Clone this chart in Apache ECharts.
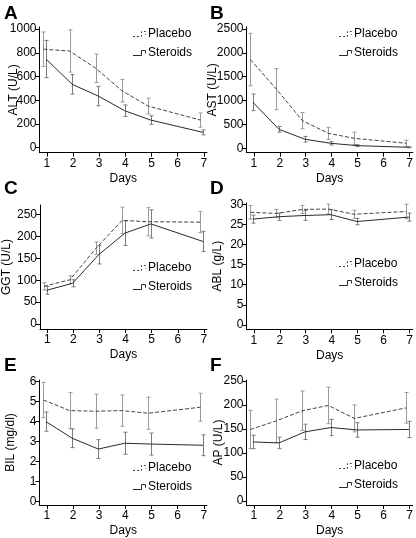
<!DOCTYPE html>
<html><head><meta charset="utf-8">
<script src="https://cdn.jsdelivr.net/npm/echarts@6/dist/echarts.min.js"></script>
<style>html,body{margin:0;padding:0;background:#fff}#c{width:416px;height:538px}</style>
</head><body><div id="c"></div>
<script>
const days = [1, 2, 3, 4, 5, 7];
const xTicks = [1, 2, 3, 4, 5, 6, 7];

const altPlacebo = [830, 815, 669, 480, 351, 233];
const altPlaceboErr = [145, 178, 120, 95, 66, 60];
const altSteroids = [747, 534, 435, 312, 233, 129];
const altSteroidsErr = [157, 82, 82, 48, 36, 21];
const altTicks = [0, 200, 400, 600, 800, 1000];

const astPlacebo = [1860, 1240, 580, 314, 209, 105];
const astPlaceboErr = [550, 430, 170, 125, 130, 65];
const astSteroids = [964, 398, 189, 105, 56, 21];
const astSteroidsErr = [175, 60, 60, 35, 20, 10];
const astTicks = [0, 500, 1000, 1500, 2000, 2500];

const ggtPlacebo = [86, 101, 173, 236, 233, 232];
const ggtPlaceboErr = [8, 9, 14, 30, 32, 24];
const ggtSteroids = [77, 93, 158, 207, 228, 188];
const ggtSteroidsErr = [9, 8, 21, 28, 32, 23];
const ggtTicks = [0, 50, 100, 150, 200, 250];

const ablPlacebo = [28.0, 27.7, 28.7, 28.8, 27.5, 28.2];
const ablPlaceboErr = [1.7, 1.0, 1.0, 1.2, 1.0, 1.8];
const ablSteroids = [26.3, 26.9, 27.2, 27.4, 25.7, 26.8];
const ablSteroidsErr = [1.0, 0.9, 1.2, 1.2, 0.8, 1.0];
const ablTicks = [0, 5, 10, 15, 20, 25, 30];

const bilPlacebo = [5.08, 4.55, 4.52, 4.55, 4.42, 4.72];
const bilPlaceboErr = [0.88, 0.9, 0.85, 0.78, 0.8, 0.7];
const bilSteroids = [4.0, 3.17, 2.63, 2.92, 2.88, 2.82];
const bilSteroidsErr = [0.48, 0.47, 0.47, 0.55, 0.55, 0.52];
const bilTicks = [0, 1, 2, 3, 4, 5, 6];

const apPlacebo = [149, 167, 188, 199, 172, 194];
const apPlaceboErr = [40, 45, 41, 38, 28, 32];
const apSteroids = [123, 121, 144, 153, 148, 149];
const apSteroidsErr = [14, 12, 16, 17, 15, 17];
const apTicks = [0, 50, 100, 150, 200, 250];

const panelLetters = ['A', 'B', 'C', 'D', 'E', 'F'];
const yNames = ['ALT (U/L)', 'AST (U/L)', 'GGT (U/L)', 'ABL (g/L)', 'BIL (mg/dl)', 'AP (U/L)'];
const xName = 'Days';
const seriesNames = ['Placebo', 'Steroids'];

const panels = [
  {p: altPlacebo, pe: altPlaceboErr, s: altSteroids, se: altSteroidsErr, ticks: altTicks},
  {p: astPlacebo, pe: astPlaceboErr, s: astSteroids, se: astSteroidsErr, ticks: astTicks},
  {p: ggtPlacebo, pe: ggtPlaceboErr, s: ggtSteroids, se: ggtSteroidsErr, ticks: ggtTicks},
  {p: ablPlacebo, pe: ablPlaceboErr, s: ablSteroids, se: ablSteroidsErr, ticks: ablTicks},
  {p: bilPlacebo, pe: bilPlaceboErr, s: bilSteroids, se: bilSteroidsErr, ticks: bilTicks},
  {p: apPlacebo, pe: apPlaceboErr, s: apSteroids, se: apSteroidsErr, ticks: apTicks}
];

// layout (pixels)
const layout = [
  {left: 39.5, width: 167.5, top: 27, height: 125.7, min: -42, max: 1017, gap: 20, lx: 133, ly: 34, letter: [4, 14]},
  {left: 246.5, width: 169, top: 27, height: 125.7, min: -92, max: 2542, gap: 28, lx: 339, ly: 34, letter: [210, 14]},
  {left: 39.5, width: 167.5, top: 205, height: 124, min: -11, max: 271, gap: 27, lx: 133, ly: 268, letter: [4, 189]},
  {left: 246.5, width: 169, top: 203, height: 126.3, min: -1.07, max: 30.3, gap: 23, lx: 339, ly: 264, letter: [210, 189]},
  {left: 39.5, width: 167.5, top: 380, height: 125, min: -0.165, max: 6.08, gap: 23, lx: 133, ly: 468, letter: [4, 366]},
  {left: 246.5, width: 169, top: 380, height: 125, min: -8.3, max: 252, gap: 22, lx: 339, ly: 466, letter: [210, 366]}
];

const FONT = '"Liberation Sans", Arial, Helvetica, sans-serif';
const offP = -0.13, offS = -0.03;
const colP = '#444444', colS = '#2a2a2a', errP = '#9a9a9a', errS = '#7a7a7a';

const grids = [], xAxes = [], yAxes = [], series = [], graphics = [];

function errSeries(idx, vals, errs, off, color, name) {
  return {
    type: 'custom', name: name, xAxisIndex: idx, yAxisIndex: idx, z: 1,
    data: days.map((d, i) => [d + off, vals[i] - errs[i], vals[i] + errs[i]]),
    renderItem: function (params, api) {
      const lo = api.coord([api.value(0), api.value(1)]);
      const hi = api.coord([api.value(0), api.value(2)]);
      const x = Math.round(lo[0]) + 0.5;
      const w = 2;
      const st = {stroke: color, lineWidth: 1};
      return {type: 'group', children: [
        {type: 'line', shape: {x1: x, y1: lo[1], x2: x, y2: hi[1]}, style: st},
        {type: 'line', shape: {x1: x - w, y1: lo[1], x2: x + w, y2: lo[1]}, style: st},
        {type: 'line', shape: {x1: x - w, y1: hi[1], x2: x + w, y2: hi[1]}, style: st}
      ]};
    },
    silent: true
  };
}

panels.forEach((pn, i) => {
  const L = layout[i];
  grids.push({left: L.left, top: L.top, width: L.width, height: L.height, containLabel: false});
  xAxes.push({
    type: 'value', gridIndex: i, min: 0.72, max: 7.12,
    name: xName, nameLocation: 'middle', nameGap: 20, nameMoveOverlap: false,
    nameTextStyle: {fontFamily: FONT, fontSize: 12, color: '#000'},
    axisLine: {show: true, onZero: false, lineStyle: {color: '#000', width: 1}},
    axisTick: {show: true, length: 4, customValues: xTicks, lineStyle: {color: '#000'}},
    axisLabel: {customValues: xTicks, fontFamily: FONT, fontSize: 12, color: '#000', margin: 5,
      formatter: v => String(v)},
    splitLine: {show: false}
  });
  yAxes.push({
    type: 'value', gridIndex: i, min: L.min, max: L.max,
    name: yNames[i], nameLocation: 'middle', nameGap: L.gap, nameRotate: 90, nameMoveOverlap: false,
    nameTextStyle: {fontFamily: FONT, fontSize: 12, color: '#000'},
    axisLine: {show: true, onZero: false, lineStyle: {color: '#000', width: 1}},
    axisTick: {show: true, length: 4, customValues: pn.ticks, lineStyle: {color: '#000'}},
    axisLabel: {customValues: pn.ticks, fontFamily: FONT, fontSize: 12, color: '#000', margin: 3,
      formatter: v => String(v)},
    splitLine: {show: false}
  });
  series.push(errSeries(i, pn.p, pn.pe, offP, errP, seriesNames[0]));
  series.push(errSeries(i, pn.s, pn.se, offS, errS, seriesNames[1]));
  series.push({
    type: 'line', name: seriesNames[0], xAxisIndex: i, yAxisIndex: i, z: 3,
    data: days.map((d, k) => [d + offP, pn.p[k]]),
    symbol: 'none', lineStyle: {color: colP, width: 1, type: [4, 2]}, silent: true
  });
  series.push({
    type: 'line', name: seriesNames[1], xAxisIndex: i, yAxisIndex: i, z: 3,
    data: days.map((d, k) => [d + offS, pn.s[k]]),
    symbol: 'none', lineStyle: {color: colS, width: 1}, silent: true
  });
  graphics.push({type: 'text', left: L.letter[0], top: L.letter[1] - 10,
    style: {text: panelLetters[i], font: 'bold 19px ' + FONT, fill: '#000'}});
  const lx = L.lx;
  [0, 1].forEach(j => {
    const y = L.ly + j * 19;
    const yb = y + 2.5, yt = y - 2.5;
    graphics.push({type: 'polyline', shape: {points: [[lx, yb], [lx + 8.5, yb], [lx + 8.5, yt], [lx + 12.5, yt], [lx + 12.5, y + 0.5]]},
      style: {stroke: j === 0 ? colP : colS, lineWidth: 1, fill: null, lineDash: j === 0 ? [2, 2] : null}});
    graphics.push({type: 'text', x: lx + 15, y: y,
      style: {text: seriesNames[j], font: '12px ' + FONT, fill: '#000', textVerticalAlign: 'middle'}});
  });
});

const chart = echarts.init(document.getElementById('c'), null, {renderer: 'canvas'});
chart.setOption({
  animation: false,
  backgroundColor: '#fff',
  grid: grids, xAxis: xAxes, yAxis: yAxes, series: series, graphic: graphics
});
</script></body></html>
